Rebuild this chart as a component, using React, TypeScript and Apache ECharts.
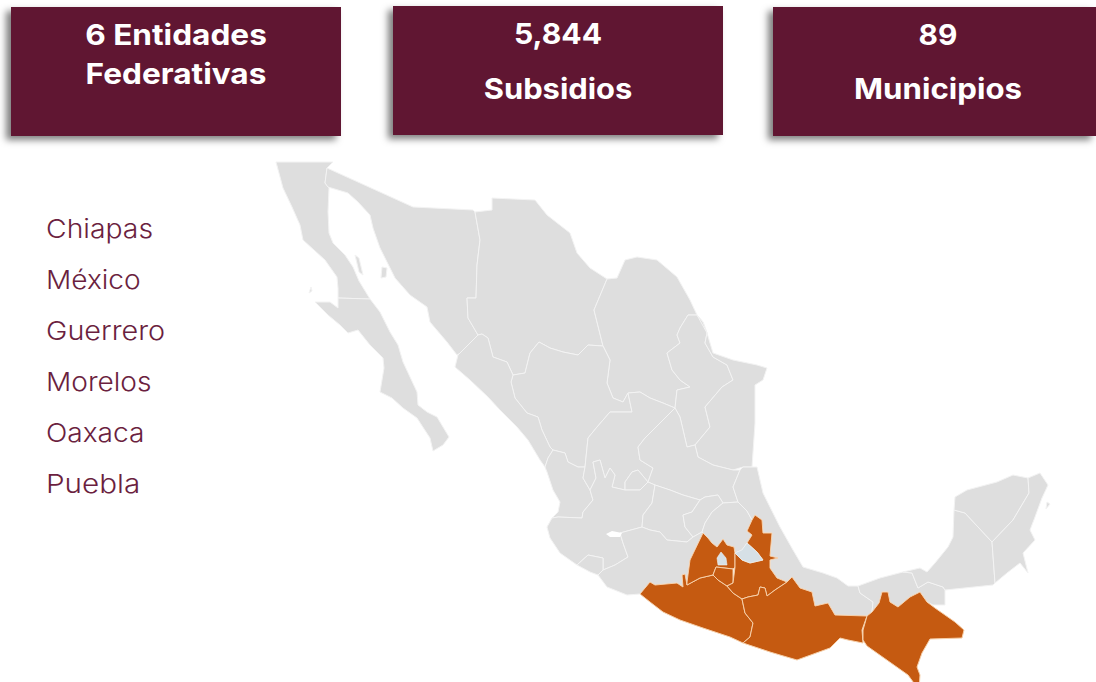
import React, { useEffect, useRef } from "react";
import * as echarts from "echarts";

type Pt = [number, number];
const WIDTH = 1096;
const HEIGHT = 682;

const cardLines = [
  ["6 Entidades", "Federativas"],
  ["5,844", "Subsidios"],
  ["89", "Municipios"],
];
const legendStates = ["Chiapas", "México", "Guerrero", "Morelos", "Oaxaca", "Puebla"];
const highlighted = ["Chiapas", "México", "Guerrero", "Morelos", "Oaxaca", "Puebla"];

const bajaNorte: Pt[] = [[276,162],[333,162],[327,168],[325,183],[329,188],[328,212],[329,233],[333,243],[345,255],[353,267],[359,281],[370,299],[338,298],[338,288],[337,277],[325,260],[303,240],[300,225],[292,207],[283,188]];
const bajaSur: Pt[] = [[338,298],[370,299],[380,312],[390,332],[398,345],[403,362],[417,392],[418,405],[427,412],[437,417],[449,437],[443,445],[433,451],[430,438],[417,418],[403,408],[392,398],[380,392],[384,368],[383,358],[370,345],[358,330],[348,333],[340,325],[328,315],[315,302],[330,302],[338,308]];
const sonora: Pt[] = [[327,168],[413,207],[473,210],[475,212],[480,240],[477,265],[476,298],[467,298],[468,318],[478,335],[462,352],[457,355],[447,342],[430,322],[427,307],[410,295],[395,278],[380,248],[373,228],[370,215],[358,202],[348,193],[328,187],[325,183]];
const chihuahua: Pt[] = [[475,212],[492,210],[492,198],[535,200],[547,215],[570,233],[577,253],[590,268],[607,279],[594,310],[603,346],[588,345],[578,355],[563,352],[550,348],[539,342],[530,353],[525,373],[513,375],[507,362],[493,357],[488,338],[482,334],[478,335],[468,318],[467,298],[476,298],[477,265],[480,240]];
const coahuila: Pt[] = [[607,279],[617,278],[625,260],[637,257],[657,260],[677,277],[690,300],[697,315],[688,315],[680,328],[677,335],[680,343],[667,353],[672,370],[680,380],[690,387],[677,390],[675,408],[663,403],[650,398],[640,392],[628,393],[623,402],[613,398],[607,383],[610,360],[603,346],[594,310]];
const nuevoLeon: Pt[] = [[697,315],[703,322],[707,333],[705,343],[713,357],[727,365],[733,380],[722,387],[705,407],[710,427],[695,445],[687,447],[680,417],[675,408],[677,390],[690,387],[680,380],[672,370],[667,353],[680,343],[677,335],[680,328],[688,315]];
const tamaulipas: Pt[] = [[697,315],[703,322],[707,333],[713,353],[733,360],[757,365],[767,368],[763,380],[755,385],[755,423],[752,467],[743,467],[733,470],[713,465],[698,457],[695,445],[710,427],[705,407],[722,387],[733,380],[727,365],[713,357],[705,343],[707,333]];
const durango: Pt[] = [[513,375],[525,373],[530,353],[539,342],[550,348],[563,352],[578,355],[588,345],[603,346],[610,360],[607,383],[613,398],[623,402],[628,393],[632,412],[610,412],[597,427],[588,438],[585,467],[578,467],[568,462],[565,453],[553,450],[550,447],[542,430],[538,417],[527,413],[515,398],[511,382]];
const sinaloa: Pt[] = [[478,335],[482,334],[488,338],[493,357],[507,362],[513,375],[511,382],[515,398],[527,413],[538,417],[542,430],[550,447],[553,450],[548,458],[545,467],[540,460],[528,440],[517,427],[500,410],[488,397],[470,380],[455,367],[458,355]];
const nayarit: Pt[] = [[553,450],[565,453],[568,462],[578,467],[585,467],[583,478],[590,490],[593,500],[583,512],[582,518],[558,517],[552,518],[558,512],[560,502],[553,490],[547,472],[545,467],[548,458]];
const zacatecas: Pt[] = [[628,393],[640,392],[650,398],[663,403],[675,408],[660,423],[645,438],[638,447],[640,460],[653,468],[648,482],[638,470],[632,472],[625,482],[625,490],[612,487],[615,475],[610,468],[605,478],[600,460],[593,462],[596,478],[590,490],[583,478],[585,467],[588,438],[597,427],[610,412],[632,412]];
const aguascalientes: Pt[] = [[625,482],[632,472],[638,470],[648,482],[640,490],[625,490]];
const sanLuis: Pt[] = [[675,408],[680,417],[687,447],[695,445],[698,457],[713,465],[733,470],[740,470],[733,487],[738,502],[723,503],[718,495],[705,497],[700,500],[683,495],[670,490],[655,485],[648,482],[653,468],[640,460],[638,447],[645,438],[660,423]];
const jalisco: Pt[] = [[590,490],[596,478],[593,462],[600,460],[605,478],[610,468],[615,475],[612,487],[625,490],[640,490],[648,482],[655,485],[652,503],[643,515],[642,527],[620,533],[623,543],[628,557],[615,565],[603,570],[603,558],[588,555],[577,565],[560,553],[550,538],[547,527],[552,518],[558,517],[582,518],[583,512],[593,500]];
const colima: Pt[] = [[577,565],[588,555],[603,558],[603,570],[598,575],[590,572]];
const guanajuato: Pt[] = [[655,485],[670,490],[683,495],[700,500],[692,512],[683,515],[685,527],[693,537],[687,542],[667,540],[660,532],[650,530],[642,527],[643,515],[652,503]];
const queretaro: Pt[] = [[683,515],[692,512],[700,500],[705,497],[718,495],[723,503],[712,512],[705,523],[702,532],[693,537],[685,527]];
const hidalgo: Pt[] = [[723,503],[738,502],[747,511],[752,520],[747,531],[752,535],[747,543],[742,550],[735,553],[734,547],[727,545],[723,539],[717,547],[712,543],[708,538],[703,533],[702,532],[705,523],[712,512]];
const michoacan: Pt[] = [[603,570],[615,565],[628,557],[623,543],[620,533],[642,527],[650,530],[660,532],[667,540],[687,542],[693,537],[702,532],[703,533],[690,560],[687,582],[687,585],[685,574],[682,575],[683,587],[677,583],[655,585],[650,582],[640,594],[627,595],[607,587],[598,575]];
const veracruz: Pt[] = [[752,467],[757,467],[763,493],[780,527],[793,550],[803,567],[823,573],[837,578],[848,586],[858,586],[860,593],[873,602],[872,612],[867,616],[835,615],[828,603],[815,606],[812,592],[800,588],[792,577],[787,582],[777,578],[770,568],[770,560],[778,558],[770,556],[772,533],[763,533],[762,520],[755,515],[752,520],[747,511],[738,502],[733,487],[740,470],[743,467]];
const tabasco: Pt[] = [[858,586],[880,578],[903,572],[912,573],[918,588],[928,582],[943,587],[945,590],[945,605],[933,605],[927,602],[920,592],[910,597],[898,607],[890,602],[888,592],[882,592],[879,603],[872,612],[873,602],[860,593]];
const campeche: Pt[] = [[903,572],[920,568],[927,572],[935,563],[948,547],[953,537],[954,510],[965,513],[992,542],[995,583],[993,585],[945,590],[943,587],[928,582],[918,588],[912,573]];
const yucatan: Pt[] = [[954,510],[955,497],[967,490],[997,482],[1013,475],[1028,478],[1029,493],[1013,520],[992,542],[965,513]];
const quintanaRoo: Pt[] = [[1028,478],[1040,473],[1048,485],[1042,498],[1035,517],[1030,530],[1035,540],[1023,553],[1028,573],[1020,563],[1007,573],[995,583],[992,542],[1013,520],[1029,493]];
const mexicoState: Pt[] = [[703,533],[708,538],[712,543],[717,547],[723,539],[727,545],[734,547],[735,553],[735,567],[733,569],[716,567],[713,575],[700,578],[687,585],[687,582],[690,560]];
const morelos: Pt[] = [[716,567],[733,569],[733,583],[727,586],[718,580],[713,575]];
const guerrero: Pt[] = [[640,594],[650,582],[655,585],[677,583],[683,587],[682,575],[685,574],[687,585],[700,578],[713,575],[718,580],[727,586],[733,593],[742,599],[745,613],[753,623],[750,637],[743,643],[730,637],[703,628],[680,620],[663,612],[650,602]];
const puebla: Pt[] = [[755,515],[762,520],[763,533],[772,533],[770,556],[778,558],[770,560],[770,568],[777,578],[787,582],[775,590],[767,596],[765,588],[760,587],[758,595],[748,597],[742,599],[733,593],[727,586],[733,583],[735,567],[735,553],[742,560],[750,563],[763,560],[757,552],[747,543],[752,535],[747,531],[752,520]];
const oaxaca: Pt[] = [[742,599],[748,597],[758,595],[760,587],[765,588],[767,596],[775,590],[787,582],[792,577],[800,588],[812,592],[815,606],[828,603],[835,615],[867,616],[862,630],[863,643],[848,640],[840,638],[830,648],[797,660],[780,655],[770,652],[743,643],[750,637],[753,623],[745,613]];
const chiapas: Pt[] = [[867,616],[872,612],[879,603],[882,592],[888,592],[890,602],[898,607],[910,597],[920,592],[927,602],[935,608],[955,622],[964,630],[962,638],[930,639],[922,653],[917,667],[920,675],[919,690],[908,675],[867,646],[863,640],[863,630]];
const cdmx: Pt[] = [[721,552],[726,558],[727,565],[718,565],[717,558]];
const tlaxcala: Pt[] = [[735,553],[742,550],[747,543],[757,552],[763,560],[750,563],[742,560]];
const chapala: Pt[] = [[606,534],[612,531],[622,533],[620,537],[610,537]];
const islaAngel: Pt[] = [[355,255],[359,258],[363,275],[359,272]];
const islaTiburon: Pt[] = [[382,267],[387,268],[386,277],[381,278]];
const islaCedros: Pt[] = [[311,287],[312,291],[309,293]];
const islaCozumel: Pt[] = [[1047,502],[1050,504],[1046,509]];

const regions: [string, Pt[][]][] = [
  ["Baja California", [bajaNorte, islaAngel]], ["Baja California Sur", [bajaSur, islaCedros]],
  ["Sonora", [sonora, islaTiburon]], ["Chihuahua", [chihuahua]], ["Coahuila", [coahuila]],
  ["Nuevo León", [nuevoLeon]], ["Tamaulipas", [tamaulipas]], ["Durango", [durango]],
  ["Sinaloa", [sinaloa]], ["Nayarit", [nayarit]], ["Zacatecas", [zacatecas]],
  ["Aguascalientes", [aguascalientes]], ["San Luis Potosí", [sanLuis]], ["Jalisco", [jalisco]],
  ["Colima", [colima]], ["Guanajuato", [guanajuato]], ["Querétaro", [queretaro]],
  ["Hidalgo", [hidalgo]], ["Michoacán", [michoacan]], ["Veracruz", [veracruz]],
  ["Tabasco", [tabasco]], ["Campeche", [campeche]], ["Yucatán", [yucatan]],
  ["Quintana Roo", [quintanaRoo, islaCozumel]], ["Guerrero", [guerrero]], ["México", [mexicoState]],
  ["Morelos", [morelos]], ["Puebla", [puebla]], ["Oaxaca", [oaxaca]], ["Chiapas", [chiapas]],
  ["Ciudad de México", [cdmx]], ["Tlaxcala", [tlaxcala]], ["Lago de Chapala", [chapala]],
];

const WINE = "#611232";
const ORANGE = "#c55a11";
const GREY = "#dedede";

const closeRing = (ring: Pt[]) => [...ring, ring[0]];

const geoJson = {
  type: "FeatureCollection",
  features: regions.map(([name, rings]) => ({
    type: "Feature",
    properties: { name },
    geometry: { type: "MultiPolygon", coordinates: rings.map((r) => [closeRing(r)]) },
  })),
};

const styleFor = (name: string) => {
  if (highlighted.includes(name)) return { areaColor: ORANGE, borderColor: "#f6cfa9", borderWidth: 1 };
  if (name === "Lago de Chapala") return { areaColor: "#ffffff", borderColor: "#ffffff", borderWidth: 0 };
  if (name === "Ciudad de México" || name === "Tlaxcala")
    return { areaColor: "#d6e0e6", borderColor: "#eef2f4", borderWidth: 0.6 };
  return { areaColor: GREY, borderColor: "#f3f3f3", borderWidth: 1 };
};

const cards = [
  { x: 11, y: 7, w: 330, h: 129, cx: 176, lineY: [34, 73], stretch: [1.09, 1.09] },
  { x: 393, y: 6, w: 330, h: 129, cx: 558, lineY: [33, 88], stretch: [1.04, 1.065] },
  { x: 773, y: 7, w: 323, h: 129, cx: 938, lineY: [34, 88], stretch: [1.03, 1.077] },
];
const legendStretch = [1.09, 1.08, 1.108, 1.08, 1.08, 1.14];

export default function App() {
  const ref = useRef<HTMLDivElement>(null);
  useEffect(() => {
    document.body.style.margin = "0";
    const chart = echarts.init(ref.current!, undefined, { renderer: "svg" });
    echarts.registerMap("mexico", geoJson as any);
    const graphic: any[] = [];
    cards.forEach((c, i) => {
      graphic.push({
        type: "rect",
        shape: { x: c.x, y: c.y, width: c.w, height: c.h },
        style: { fill: WINE, shadowBlur: 7, shadowColor: "rgba(0,0,0,0.5)", shadowOffsetX: -5, shadowOffsetY: 4 },
        z: 5,
      });
      cardLines[i].forEach((line, j) => {
        graphic.push({
          type: "text",
          x: c.cx,
          y: c.lineY[j],
          scaleX: c.stretch[j],
          style: {
            text: line,
            fill: "#ffffff",
            font: "700 29px Inter, 'Open Sans', sans-serif",
            textAlign: "center",
            textVerticalAlign: "middle",
          },
          z: 6,
        });
      });
    });
    legendStates.forEach((s, i) => {
      graphic.push({
        type: "text",
        x: 46,
        y: 229 + i * 51,
        scaleX: legendStretch[i],
        style: {
          text: s,
          fill: "#6b1f40",
          font: "300 26px Inter, 'Open Sans', sans-serif",
          textAlign: "left",
          textVerticalAlign: "middle",
        },
        z: 6,
      });
    });
    chart.setOption({
      animation: false,
      backgroundColor: "#ffffff",
      tooltip: { show: false },
      graphic,
      series: [
        {
          type: "map",
          map: "mexico",
          projection: { project: (p: number[]) => p, unproject: (p: number[]) => p },
          boundingCoords: [[0, 0], [WIDTH, HEIGHT]],
          left: 0,
          top: 0,
          width: WIDTH,
          height: HEIGHT,
          roam: false,
          silent: true,
          label: { show: false },
          emphasis: { disabled: true },
          select: { disabled: true },
          data: regions.map(([name]) => ({
            name,
            value: highlighted.includes(name) ? 1 : 0,
            itemStyle: styleFor(name),
          })),
        },
      ],
    });
    return () => chart.dispose();
  }, []);
  return (
    <div
      ref={ref}
      style={{ position: "fixed", left: 0, top: 0, width: WIDTH, height: HEIGHT, background: "#fff" }}
    />
  );
}
